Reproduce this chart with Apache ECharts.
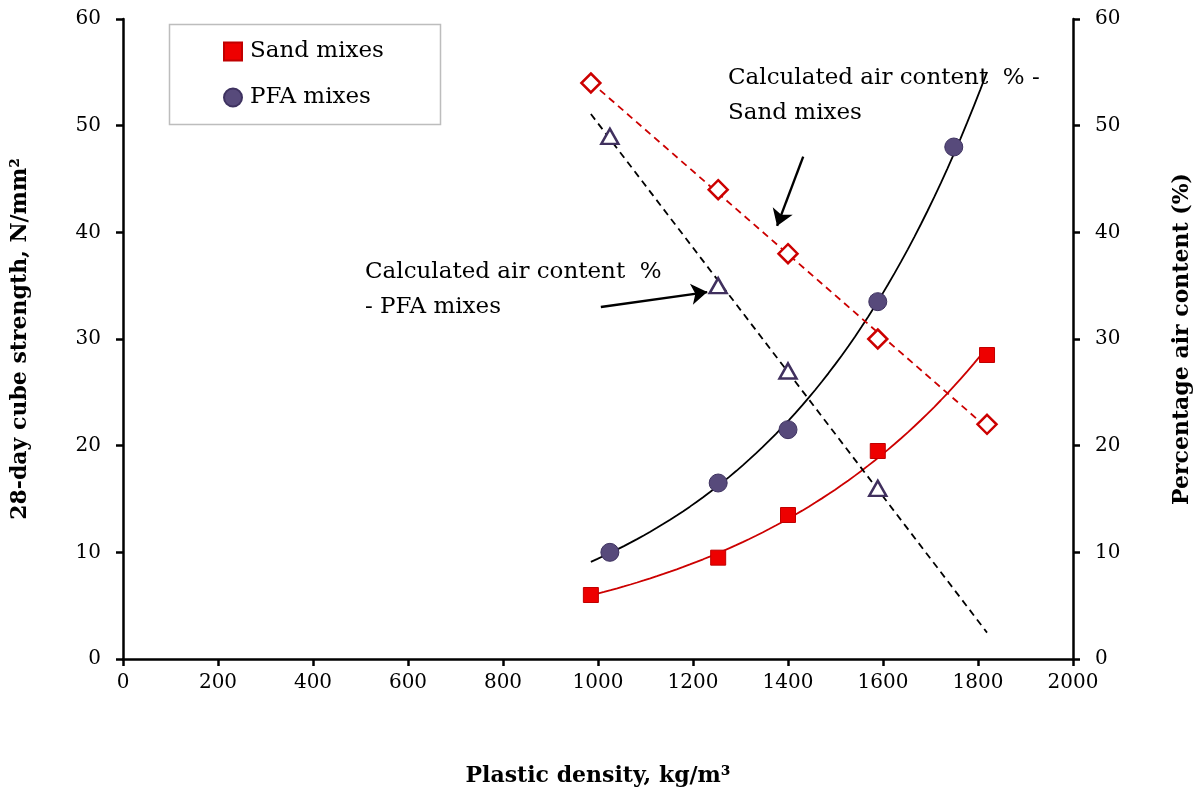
<!DOCTYPE html>
<html>
<head>
<meta charset="utf-8">
<script src="https://cdn.jsdelivr.net/npm/echarts@6/dist/echarts.min.js"></script>
<style>
html,body{margin:0;padding:0;background:#fff;overflow:hidden;}
#c{width:1202px;height:791px;}
</style>
</head>
<body>
<div id="c"></div>
<script>
// ---- Data ----
const sandDensity = [985, 1253, 1400, 1589, 1819];
const sandStrength = [6.0, 9.5, 13.5, 19.5, 28.5];
const sandAir = [54, 44, 38, 30, 22];

const pfaDensity = [1025, 1253, 1400, 1589, 1749];
const pfaStrength = [10.0, 16.5, 21.5, 33.5, 48.0];
const pfaAir = [49, 35, 27, 16];

const xTicks = [0, 200, 400, 600, 800, 1000, 1200, 1400, 1600, 1800, 2000];
const yTicks = [0, 10, 20, 30, 40, 50, 60];

// trendline extent (as drawn in reference)
const trendFrom = 985, trendTo = 1819;

// ---- Least-squares trendlines (like spreadsheet trendlines) ----
function linFit(xs, ys) {
  const n = xs.length;
  const mx = xs.reduce((a, b) => a + b, 0) / n;
  const my = ys.reduce((a, b) => a + b, 0) / n;
  let sxy = 0, sxx = 0;
  for (let i = 0; i < n; i++) { sxy += (xs[i] - mx) * (ys[i] - my); sxx += (xs[i] - mx) ** 2; }
  const b = sxy / sxx;
  return { a: my - b * mx, b };
}
function expFit(xs, ys) {
  const f = linFit(xs, ys.map(Math.log));
  return x => Math.exp(f.a + f.b * x);
}
function linFn(xs, ys) { const f = linFit(xs, ys); return x => f.a + f.b * x; }
function sample(fn, x0, x1, n) {
  const out = [];
  for (let i = 0; i <= n; i++) { const x = x0 + (x1 - x0) * i / n; out.push([x, fn(x)]); }
  return out;
}
const pfaAirDensity = pfaDensity.slice(0, pfaAir.length);
const sandExp = sample(expFit(sandDensity, sandStrength), trendFrom, trendTo, 60);
const pfaExp = sample(expFit(pfaDensity, pfaStrength), trendFrom, trendTo, 60);
const sandAirLin = sample(linFn(sandDensity, sandAir), trendFrom, trendTo, 1);
const pfaAirLin = sample(linFn(pfaAirDensity, pfaAir), trendFrom, trendTo, 1);

const zip = (a, b) => a.map((v, i) => [v, b[i]]);

const FONT = '"DejaVu Serif", "Liberation Serif", serif';
const chart = echarts.init(document.getElementById('c'));

const axisCommon = {
  axisLine: { show: true, lineStyle: { color: '#000', width: 2.5 } },
  axisTick: { show: true, inside: false, length: 7, lineStyle: { color: '#000', width: 2.5 } },
  axisLabel: { color: '#000', fontFamily: FONT, fontSize: 20, formatter: v => String(v) },
  splitLine: { show: false }
};
const titleStyle = { fontFamily: FONT, fontSize: 22, fontWeight: 'bold', color: '#000' };

chart.setOption({
  animation: false,
  backgroundColor: '#fff',
  grid: { left: 123, right: 129, top: 19, bottom: 132, containLabel: false, outerBoundsMode: 'none' },
  legend: {
    orient: 'vertical',
    left: 218, top: 35,
    itemGap: 23,
    itemWidth: 18, itemHeight: 18,
    textStyle: { fontFamily: FONT, fontSize: 23, color: '#000', padding: [0, 0, 0, 3] },
    data: [
      { name: 'Sand mixes', itemStyle: { opacity: 1 } },
      { name: 'PFA mixes', itemStyle: { opacity: 1 } }
    ]
  },
  xAxis: Object.assign({}, axisCommon, {
    type: 'value', min: 0, max: 2000, interval: 200,
    name: 'Plastic density, kg/m³', nameLocation: 'middle', nameGap: 106,
    nameTextStyle: titleStyle,
    axisLabel: Object.assign({}, axisCommon.axisLabel, { margin: 14 })
  }),
  yAxis: [
    Object.assign({}, axisCommon, {
      type: 'value', min: 0, max: 60, interval: 10, position: 'left',
      name: '28-day cube strength, N/mm²', nameLocation: 'middle', nameGap: 92, nameRotate: 90,
      nameTextStyle: titleStyle,
      axisLabel: Object.assign({}, axisCommon.axisLabel, { margin: 22 })
    }),
    Object.assign({}, axisCommon, {
      type: 'value', min: 0, max: 60, interval: 10, position: 'right',
      name: 'Percentage air content (%)', nameLocation: 'middle', nameGap: 98, nameRotate: 90,
      nameTextStyle: titleStyle,
      axisLabel: Object.assign({}, axisCommon.axisLabel, { margin: 22 })
    })
  ],
  graphic: [
    { type: 'rect', left: 167, top: 22, shape: { width: 271, height: 100 },
      style: { fill: 'none', stroke: '#bdbdbd', lineWidth: 1.5 }, z: 100 },
    { type: 'text', left: 728, top: 61, z: 100,
      style: { text: 'Calculated air content  % -\nSand mixes', font: '23px ' + FONT, fill: '#000', lineHeight: 35 } },
    { type: 'text', left: 365, top: 255, z: 100,
      style: { text: 'Calculated air content  %\n- PFA mixes', font: '23px ' + FONT, fill: '#000', lineHeight: 35 } }
  ],
  series: [
    { name: 'sand trend', type: 'line', data: sandExp, showSymbol: false, smooth: false,
      lineStyle: { color: '#cc0000', width: 1.8 }, z: 2, silent: true },
    { name: 'pfa trend', type: 'line', data: pfaExp, showSymbol: false, smooth: false,
      lineStyle: { color: '#000', width: 1.8 }, z: 2, silent: true },
    { name: 'sand air trend', type: 'line', yAxisIndex: 1, data: sandAirLin, showSymbol: false,
      lineStyle: { color: '#cc0000', width: 1.8, type: [7, 5] }, z: 2, silent: true },
    { name: 'pfa air trend', type: 'line', yAxisIndex: 1, data: pfaAirLin, showSymbol: false,
      lineStyle: { color: '#000', width: 1.8, type: [7, 5] }, z: 2, silent: true },
    { name: 'Sand air', type: 'scatter', yAxisIndex: 1, data: zip(sandDensity, sandAir),
      symbol: 'diamond', symbolSize: 19,
      itemStyle: { color: '#fff', borderColor: '#cc0000', borderWidth: 2.5, opacity: 1 }, z: 5 },
    { name: 'PFA air', type: 'scatter', yAxisIndex: 1, data: zip(pfaAirDensity, pfaAir),
      symbol: 'triangle', symbolSize: [17, 15],
      itemStyle: { color: '#fff', borderColor: '#40305e', borderWidth: 2.5, opacity: 1 }, z: 5 },
    { name: 'Sand mixes', type: 'scatter', data: zip(sandDensity, sandStrength),
      symbol: 'rect', symbolSize: 15,
      itemStyle: { color: '#ee0000', borderColor: '#c00000', borderWidth: 1, opacity: 1 }, z: 6 },
    { name: 'PFA mixes', type: 'scatter', data: zip(pfaDensity, pfaStrength),
      symbol: 'circle', symbolSize: 18,
      itemStyle: { color: '#574a7b', borderColor: '#3e3260', borderWidth: 1, opacity: 1 }, z: 6 },
    { name: 'arrows', type: 'lines', coordinateSystem: 'cartesian2d', silent: true, z: 7,
      symbol: ['none', 'arrow'], symbolSize: 16,
      lineStyle: { color: '#000', width: 2.4, opacity: 1 },
      data: [
        { coords: [[1432, 47.1], [1377, 40.6]] },
        { coords: [[1006, 33.0], [1230, 34.4]] }
      ] }
  ]
});
</script>
</body>
</html>
